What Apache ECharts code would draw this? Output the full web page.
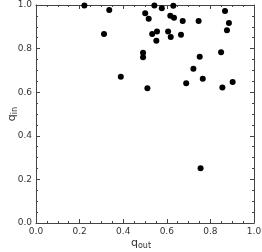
<!DOCTYPE html>
<html><head><meta charset="utf-8">
<script src="https://cdn.jsdelivr.net/npm/echarts@6/dist/echarts.min.js"></script>
<style>html,body{margin:0;padding:0;background:#fff}#c{width:262px;height:252px}</style>
</head><body><div id="c"></div>
<script>
const qOut = [0.543,0.577,0.630,0.501,0.517,0.616,0.633,0.673,0.746,0.867,0.885,0.876,0.533,0.555,0.606,0.618,0.665,0.552,0.491,0.491,0.849,0.751,0.722,0.765,0.689,0.902,0.511,0.855,0.222,0.336,0.312,0.389,0.755];
const qIn  = [0.998,0.985,0.997,0.962,0.937,0.951,0.942,0.927,0.927,0.972,0.917,0.884,0.867,0.878,0.878,0.853,0.864,0.836,0.781,0.760,0.783,0.763,0.708,0.662,0.641,0.647,0.618,0.622,0.998,0.977,0.867,0.671,0.251];
const ticks = [0, 0.2, 0.4, 0.6, 0.8, 1.0];
const xName = 'q';
const xSub = 'out';
const yName = 'q';
const ySub = 'in';

const lineCol = '#444';
const txtCol = '#333';
const font = 'DejaVu Sans';
function axisBase(show) {
  return {
    type: 'value', min: 0, max: 1, interval: 0.2,
    axisLine: {show: true, onZero: false, lineStyle: {color: lineCol, width: 1}},
    axisTick: {show: true, inside: true, length: 4, lineStyle: {color: lineCol}},
    minorTick: {show: true, splitNumber: 4, length: 2, lineStyle: {color: lineCol}},
    splitLine: {show: false},
    axisLabel: {show: show, color: txtCol, fontFamily: font, fontSize: 9,
      formatter: v => ticks.includes(Math.round(v*10)/10) ? v.toFixed(1) : ''}
  };
}
const rich = {
  b: {fontFamily: font, fontSize: 11, color: txtCol},
  s: {fontFamily: font, fontSize: 8, color: txtCol, verticalAlign: 'bottom', padding: [6,0,0,0]}
};
const x0 = Object.assign(axisBase(true), {position: 'bottom',
  name: '{b|' + xName + '}{s|' + xSub + '}', nameLocation: 'middle', nameGap: 13,
  nameMoveOverlap: false,
  nameTextStyle: {rich: rich, padding: [0, 8, 0, 0]}});
x0.axisLabel.margin = 4;
const x1 = Object.assign(axisBase(false), {position: 'top'});
const y0 = Object.assign(axisBase(true), {position: 'left',
  name: '{b|' + yName + '}{s|' + ySub + '}', nameLocation: 'middle', nameGap: 17, nameRotate: 90,
  nameMoveOverlap: false,
  nameTextStyle: {rich: rich}});
y0.axisLabel.margin = 4;
const y1 = Object.assign(axisBase(false), {position: 'right'});

const chart = echarts.init(document.getElementById('c'), null, {renderer: 'canvas'});
chart.setOption({
  animation: false,
  grid: {left: 36, top: 5, width: 218, height: 218, containLabel: false, outerBoundsMode: 'none'},
  xAxis: [x0, x1],
  yAxis: [y0, y1],
  series: [{
    type: 'scatter', xAxisIndex: 0, yAxisIndex: 0,
    symbolSize: 6, itemStyle: {color: '#000', opacity: 1},
    data: qOut.map((v, i) => [v, qIn[i]])
  }]
});
</script></body></html>
